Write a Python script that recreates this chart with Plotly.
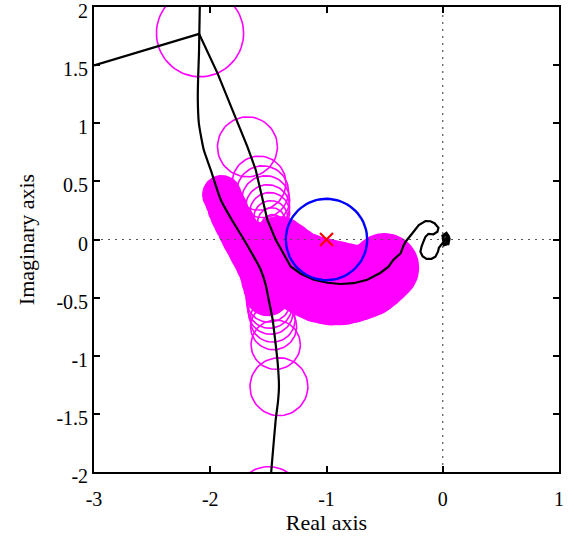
import numpy as np
import plotly.graph_objects as go

# ---------------- data ----------------
# Black curve 1 (frequency response estimate)
line1_re = [-3.0, -2.096, -1.938, -1.680, -1.609, -1.552, -1.509, -1.437, -1.377, -1.308,
            -1.222, -1.108, -0.991, -0.879, -0.767, -0.649, -0.535, -0.466, -0.424, -0.381,
            -0.363, -0.338, -0.320, -0.263, -0.206, -0.149, -0.106, -0.071, -0.037, -0.046,
            -0.080, -0.123, -0.149, -0.166, -0.183, -0.192, -0.174, -0.140, -0.097, -0.063,
            -0.041, -0.033, -0.005, 0.049, 0.032, -0.003, 0.015, 0.049, 0.058, 0.032,
            0.006, 0.023, 0.045, 0.040, 0.010, 0.000, 0.030, 0.055, 0.050, 0.020]
line1_im = [1.497, 1.769, 1.431, 0.797, 0.600, 0.342, 0.170, -0.002, -0.105, -0.232,
            -0.294, -0.346, -0.372, -0.383, -0.376, -0.346, -0.286, -0.234, -0.174, -0.131,
            -0.120, -0.054, -0.019, 0.052, 0.124, 0.159, 0.157, 0.140, 0.101, 0.067,
            0.045, 0.049, 0.023, -0.019, -0.062, -0.105, -0.144, -0.166, -0.166, -0.148,
            -0.105, -0.071, -0.034, 0.032, 0.058, 0.032, -0.028, -0.037, 0.006, 0.015,
            -0.011, 0.000, 0.045, -0.040, -0.050, 0.010, 0.050, 0.020, -0.025, -0.005]

# Black curve 2
line2_re = [-2.086, -2.090, -2.097, -2.104, -2.107, -2.098, -2.078, -2.056, -1.996, -1.910,
            -1.815, -1.710, -1.635, -1.566, -1.523, -1.497, -1.463, -1.437, -1.420, -1.409,
            -1.418, -1.437, -1.474, -1.497]
line2_im = [2.10, 2.00, 1.600, 1.400, 1.201, 1.000, 0.880, 0.772, 0.599, 0.342,
            0.170, -0.002, -0.131, -0.260, -0.389, -0.518, -0.690, -0.905, -1.060, -1.266,
            -1.400, -1.550, -1.980, -2.246]

# Uncertainty discs drawn solid (dense region)
solid_re = [-1.901, -1.875, -1.849, -1.824, -1.790, -1.755, -1.721, -1.687, -1.652, -1.618,
            -1.584, -1.558, -1.540, -1.523, -1.506,
            -1.412, -1.369, -1.317, -1.257, -1.188, -1.111, -1.034, -0.956, -0.879, -0.802,
            -0.725, -0.655, -0.595, -0.544, -0.501]
solid_im = [0.385, 0.325, 0.264, 0.204, 0.144, 0.075, 0.015, -0.045, -0.105, -0.166,
            -0.226, -0.286, -0.346, -0.406, -0.466,
            -0.062, -0.122, -0.191, -0.251, -0.294, -0.329, -0.355, -0.372, -0.380, -0.380,
            -0.372, -0.355, -0.320, -0.286, -0.243]
solid_r = [0.163, 0.163, 0.168, 0.168, 0.172, 0.172, 0.176, 0.176, 0.180, 0.180,
           0.185, 0.185, 0.189, 0.189, 0.189,
           0.258, 0.284, 0.309, 0.326, 0.344, 0.352, 0.361, 0.361, 0.352, 0.335,
           0.318, 0.309, 0.301, 0.292, 0.292]

# Uncertainty circles drawn as outlines
ring_re = [-1.497, -1.489, -1.480, -1.463, -1.455, -1.437, -1.409, -1.497,
           -2.088, -1.680, -1.581, -1.549, -1.523, -1.506, -1.489, -1.480, -1.472, -1.463]
ring_im = [-0.518, -0.570, -0.622, -0.690, -0.750, -0.905, -1.266, -2.246,
           1.775, 0.797, 0.485, 0.411, 0.342, 0.282, 0.232, 0.188, 0.153, 0.119]
ring_r = [0.193, 0.193, 0.193, 0.193, 0.198, 0.212, 0.249, 0.292,
          0.375, 0.258, 0.232, 0.223, 0.206, 0.189, 0.172, 0.146, 0.120, 0.095]

# Critical point and its circle
crit_re, crit_im, crit_r = -1.0, 0.0, 0.35

x_ticks = [-3, -2, -1, 0, 1]
x_ticktext = ["-3", "-2", "-1", "0", "1"]
y_ticks = [-2, -1.5, -1, -0.5, 0, 0.5, 1, 1.5, 2]
y_ticktext = ["-2", "-1.5", "-1", "-0.5", "0", "0.5", "1", "1.5", "2"]

# ---------------- helpers ----------------
t = np.linspace(0, 2 * np.pi, 73)


def circles(cx, cy, rr):
    xs, ys = [], []
    for a, b, r in zip(cx, cy, rr):
        xs += list(a + r * np.cos(t)) + [None]
        ys += list(b + r * np.sin(t)) + [None]
    return xs, ys


MAG = "#FF00FF"
fig = go.Figure()

sx, sy = circles(solid_re, solid_im, solid_r)
fig.add_trace(go.Scatter(x=sx, y=sy, mode="lines", fill="toself", fillcolor=MAG,
                         line=dict(color=MAG, width=1.5), hoverinfo="skip"))
rx, ry = circles(ring_re, ring_im, ring_r)
fig.add_trace(go.Scatter(x=rx, y=ry, mode="lines",
                         line=dict(color=MAG, width=1.6), hoverinfo="skip"))

# dotted axes lines
fig.add_trace(go.Scatter(x=[-3, 1], y=[0, 0], mode="lines",
                         line=dict(color="#555555", width=1.2, dash="2px,5px")))
fig.add_trace(go.Scatter(x=[0, 0], y=[-2, 2], mode="lines",
                         line=dict(color="#555555", width=1.2, dash="2px,5px")))

fig.add_trace(go.Scatter(x=line2_re, y=line2_im, mode="lines",
                         line=dict(color="black", width=2.2, shape="spline", smoothing=0.6)))
fig.add_trace(go.Scatter(x=line1_re, y=line1_im, mode="lines",
                         line=dict(color="black", width=2.2)))

bx, by = circles([crit_re], [crit_im], [crit_r])
fig.add_trace(go.Scatter(x=bx, y=by, mode="lines", line=dict(color="#0000FF", width=2.4)))
fig.add_trace(go.Scatter(x=[crit_re], y=[crit_im], mode="markers",
                         marker=dict(symbol="x-thin", size=13, color="red",
                                     line=dict(color="red", width=2.2))))

FONT = "Liberation Serif"
axis_common = dict(showline=True, linecolor="black", linewidth=1.8, mirror="ticks",
                   ticks="inside", ticklen=6, tickwidth=1.5, tickcolor="black",
                   showgrid=False, zeroline=False, ticklabeloverflow="allow",
                   automargin=False,
                   tickfont=dict(family=FONT, size=20, color="black"))

fig.update_layout(
    width=574, height=542,
    margin=dict(l=94, r=15, t=7, b=70),
    paper_bgcolor="white", plot_bgcolor="white",
    showlegend=False,
    xaxis=dict(range=[-3, 1], tickvals=x_ticks, ticktext=x_ticktext,
               title=dict(text="Real axis", font=dict(family=FONT, size=22, color="black"),
                          standoff=6),
               ticklabelstandoff=8,
               **axis_common),
    yaxis=dict(range=[-2, 2], tickvals=y_ticks, ticktext=y_ticktext,
               title=dict(text="Imaginary axis", font=dict(family=FONT, size=22, color="black"),
                          standoff=16),
               ticklabelshift=4,
               **axis_common),
)

fig.write_html("out.html", config={"displayModeBar": False},
               post_script="document.body.style.margin='0';")
